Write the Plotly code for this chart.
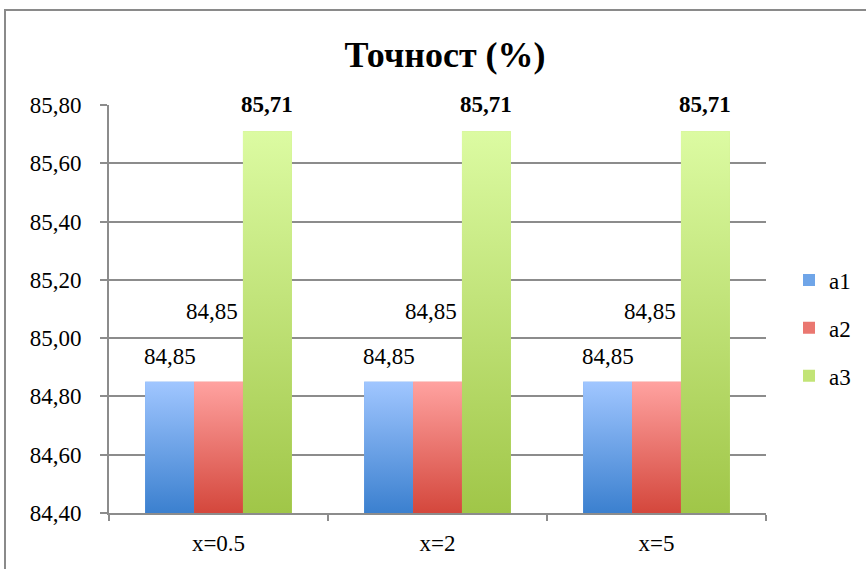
import plotly.graph_objects as go

# ---- data ----
CATEGORIES = ["x=0.5", "x=2", "x=5"]
SERIES = ["a1", "a2", "a3"]
A1 = [84.85, 84.85, 84.85]
A2 = [84.85, 84.85, 84.85]
A3 = [85.71, 85.71, 85.71]
VALUES = [A1, A2, A3]
Y_TICKS = [84.40, 84.60, 84.80, 85.00, 85.20, 85.40, 85.60, 85.80]
TITLE = "Точност (%)"

# ---- style ----
W, H = 866, 569
ML, MR, MT, MB = 109, 100, 105, 56
PW, PH = W - ML - MR, H - MT - MB
Y_MIN, Y_MAX = 84.4, 85.8
BARGAP = 0.33
FONT = "Times New Roman, Liberation Serif, serif"
GRID = "#8c8c8c"
# (bottom colour, middle colour, top colour) of each series' vertical gradient
FILLS = {
    "a1": ("#3b80cf", "#6fa5e8", "#a0c6ff"),
    "a2": ("#d4473c", "#ea7770", "#ffa2a0"),
    "a3": ("#a0c648", "#c2e476", "#dcfba2"),
}
LABEL_LIFT = {"a1": 25, "a2": 70, "a3": 27}
LABEL_NUDGE = {"a1": 0, "a2": -7, "a3": 0}
LABEL_BOLD = {"a1": False, "a2": False, "a3": True}

fig = go.Figure()

# plain bars (also provide the legend entries)
for name, vals in zip(SERIES, VALUES):
    fig.add_trace(go.Bar(
        x=CATEGORIES, y=vals, name=name, legendgroup=name,
        marker=dict(color=FILLS[name][1], line=dict(width=0)),
        hoverinfo="skip",
    ))

# gradient faces on a hidden numeric axis aligned with the category slots
n = len(SERIES)
bar_w = (1 - BARGAP) / n
for i, (name, vals) in enumerate(zip(SERIES, VALUES)):
    bottom, _, top = FILLS[name]
    for j, v in enumerate(vals):
        xc = j + (i - (n - 1) / 2) * bar_w
        x0, x1 = xc - bar_w / 2, xc + bar_w / 2
        fig.add_trace(go.Scatter(
            x=[x0, x1, x1, x0, x0], y=[Y_MIN, Y_MIN, v, v, Y_MIN],
            xaxis="x2", mode="lines", line=dict(width=0),
            fill="toself",
            fillgradient=dict(type="vertical", start=Y_MIN, stop=v,
                              colorscale=[[0, bottom], [1, top]]),
            showlegend=False, hoverinfo="skip",
        ))
        txt = f"{v:.2f}".replace(".", ",")
        if LABEL_BOLD[name]:
            txt = f"<b>{txt}</b>"
        fig.add_annotation(
            x=xc, y=v, xref="x2", yref="y", text=txt, showarrow=False,
            xshift=LABEL_NUDGE[name], yshift=LABEL_LIFT[name],
            font=dict(family=FONT, size=23, color="black"),
        )

# outer chart frame
fig.add_shape(
    type="rect", xref="paper", yref="paper",
    x0=(5 - ML) / PW, x1=(W + 20 - ML) / PW,
    y0=1 - (H + 20 - MT) / PH, y1=1 - (10 - MT) / PH,
    line=dict(color="#8a8a8a", width=2), fillcolor="rgba(0,0,0,0)", layer="below",
)

fig.update_layout(
    width=W, height=H,
    margin=dict(l=ML, r=MR, t=MT, b=MB),
    paper_bgcolor="white", plot_bgcolor="white",
    separators=", ",
    barmode="group", bargap=BARGAP, bargroupgap=0,
    font=dict(family=FONT, size=23, color="black"),
    title=dict(text=f"<b>{TITLE}</b>", x=445 / W, xref="container", xanchor="center",
               y=1 - 54 / H, yref="container", yanchor="middle",
               font=dict(family=FONT, size=36, color="black")),
    xaxis=dict(
        type="category", range=[-0.5, 2.5],
        showline=True, linecolor=GRID, linewidth=2,
        ticks="outside", tickson="boundaries", ticklen=6, tickcolor=GRID, tickwidth=2,
        showgrid=False, ticklabelstandoff=8,
        tickfont=dict(family=FONT, size=23, color="black"),
    ),
    xaxis2=dict(overlaying="x", anchor="y", range=[-0.5, 2.5], visible=False),
    yaxis=dict(
        range=[Y_MIN, Y_MAX], tickvals=Y_TICKS, tickformat=".2f",
        showline=True, linecolor=GRID, linewidth=2,
        ticks="outside", ticklen=7, tickcolor=GRID, tickwidth=2,
        showgrid=True, gridcolor=GRID, gridwidth=2, zeroline=False,
        ticklabelstandoff=14,
        tickfont=dict(family=FONT, size=23, color="black"),
    ),
    legend=dict(
        x=789 / W, xref="container", xanchor="left",
        y=1 - 328 / H, yref="container", yanchor="middle",
        font=dict(family=FONT, size=23, color="black"),
        tracegroupgap=15, itemwidth=30, bgcolor="rgba(0,0,0,0)",
    ),
)

fig.write_html("out.html")
